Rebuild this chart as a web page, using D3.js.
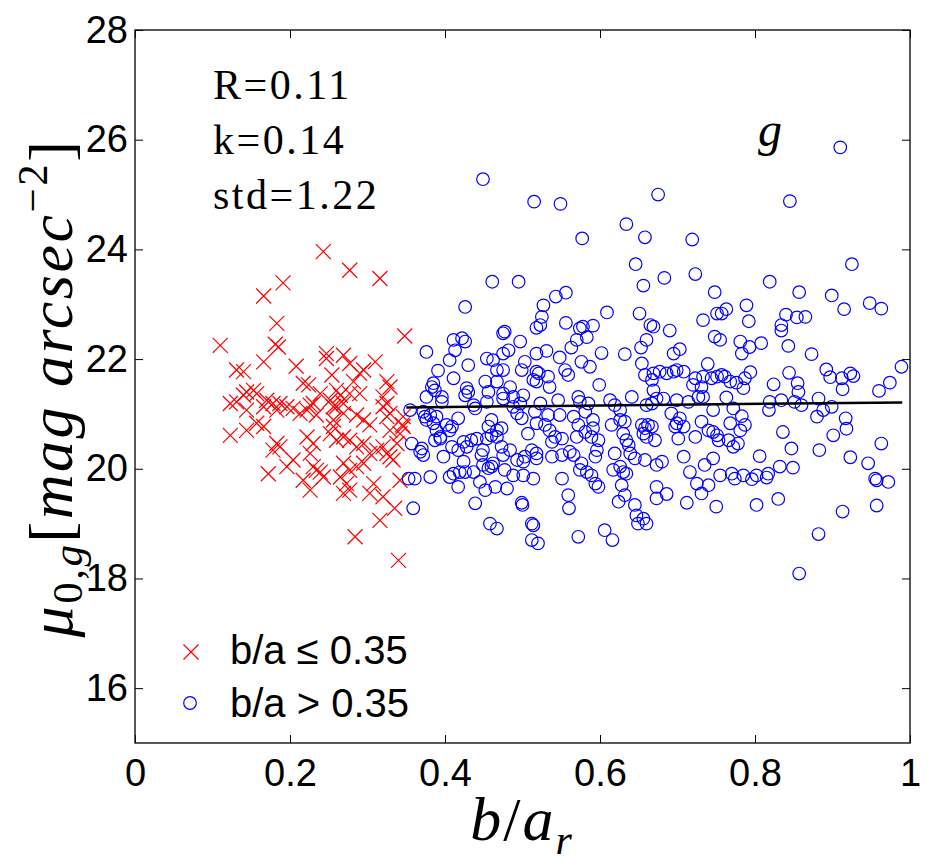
<!DOCTYPE html>
<meta charset="utf-8">
<title>mu0 vs b/a (g band)</title>
<style>
body {
  margin: 0;
  background: #fff;
}
.tick text {
  font-family: "Liberation Sans", Arial, sans-serif;
  font-size: 38px;
  fill: #000;
}
.tick line {
  stroke: #000;
  stroke-width: 1px;
}
.tex {
  font-family: "Liberation Serif", "Times New Roman", serif;
  fill: #000;
}
.legend {
  font-family: "Liberation Sans", Arial, sans-serif;
  font-size: 40px;
  fill: #000;
}
</style>
<svg></svg>
<script src="https://cdn.jsdelivr.net/npm/d3@7"></script>
<script>
// b/a <= 0.35 : [b/a, mu0]
var smallRatio = [
  [.243,23.96],[.277,23.62],[.316,23.47],[.191,23.39],[.166,23.15],[.183,22.65],[.181,22.27],[.185,22.22],[.348,22.42],[.110,22.25],
  [.131,21.80],[.140,21.77],[.166,21.95],[.208,21.87],[.247,22.10],[.247,22.01],[.269,22.07],[.277,21.92],[.310,21.95],[.295,21.80],
  [.254,21.71],[.217,21.56],[.224,21.53],[.325,21.59],[.329,21.49],[.282,21.59],[.290,21.74],
  [.144,21.40],[.153,21.43],[.157,21.37],[.140,21.34],[.123,21.19],[.131,21.22],[.170,21.25],[.178,21.19],[.187,21.19],
  [.239,21.37],[.260,21.43],[.265,21.34],[.252,21.25],[.277,21.37],[.290,21.37],[.269,21.19],[.256,21.13],[.320,21.31],[.325,21.19],
  [.204,21.10],[.226,21.16],[.144,21.07],[.166,21.13],[.183,21.07],[.196,21.13],[.213,21.01],[.222,21.07],[.230,21.19],[.234,20.98],
  [.260,21.13],[.269,21.01],[.256,20.89],[.286,20.98],[.295,20.89],[.303,20.80],[.320,21.13],[.329,21.01],[.325,20.95],[.345,20.80],[.346,20.95],
  [.123,20.61],[.144,20.70],[.157,20.83],[.166,20.77],[.183,20.46],[.187,20.40],[.178,20.34],[.204,20.16],[.196,20.04],
  [.222,20.58],[.230,20.46],[.226,20.28],[.230,20.04],[.239,19.94],
  [.252,20.64],[.260,20.52],[.256,20.77],[.269,20.58],[.277,20.52],[.286,20.40],[.295,20.46],[.303,20.28],
  [.269,20.10],[.277,19.97],[.286,20.04],[.295,20.10],[.265,19.85],[.273,19.73],[.277,19.61],[.269,19.55],
  [.312,20.34],[.325,20.28],[.329,20.22],[.333,20.16],[.320,20.40],[.338,20.46],[.342,20.64],[.329,20.70],[.346,20.77],
  [.172,19.91],[.217,19.79],[.226,19.61],[.243,19.85],[.234,19.97],[.303,19.55],[.320,19.49],[.335,19.28],[.316,19.06],[.342,19.79],[.308,19.73],
  [.284,18.76],[.340,18.33]
];

// b/a > 0.35
var largeRatio = [
  [.449,25.28],[.515,24.87],[.461,23.41],[.495,23.41],[.426,22.95],[.527,22.98],[.525,22.77],[.518,22.57],[.523,22.62],
  [.411,22.35],[.422,22.38],[.426,22.32],[.413,22.16],[.475,22.47],[.477,22.50],[.497,22.32],[.482,22.16],[.475,22.10],[.376,22.13],
  [.406,21.98],[.430,21.89],[.391,21.79],[.411,21.65],[.385,21.56],[.383,21.49],[.387,21.43],[.376,21.31],[.396,21.31],[.396,21.22],
  [.428,21.47],[.430,21.40],[.426,21.34],[.454,22.01],[.462,21.98],[.467,21.80],[.475,21.80],[.503,21.95],[.499,21.80],[.518,22.10],[.518,21.77],
  [.452,21.59],[.467,21.59],[.456,21.40],[.454,21.22],[.475,21.37],[.484,21.49],[.488,21.31],[.475,21.28],[.501,21.34],[.514,21.62],
  [.437,21.16],[.439,21.10],[.355,21.07],[.372,21.04],[.381,20.98],[.376,20.89],[.389,20.95],[.385,20.83],[.374,20.95],
  [.402,20.80],[.409,20.77],[.417,20.92],[.406,20.70],[.389,20.70],[.394,20.58],
  [.460,20.89],[.456,20.77],[.467,20.70],[.473,20.74],[.460,20.61],[.467,20.58],[.454,20.55],
  [.493,21.01],[.499,20.92],[.507,20.64],[.488,21.13],[.497,21.19],[.516,21.04],[.518,20.83],
  [.357,20.46],[.370,20.37],[.372,20.25],[.368,20.31],[.387,20.52],[.394,20.55],
  [.398,20.22],[.409,20.40],[.417,20.34],[.424,20.49],[.428,20.40],[.434,20.52],[.441,20.55],
  [.473,20.40],[.484,20.34],[.475,20.25],[.449,20.34],[.447,20.25],[.449,20.07],[.456,20.01],[.460,20.04],[.462,20.10],
  [.493,20.16],[.501,20.13],[.503,20.22],[.512,20.34],[.518,20.28],[.518,20.19],
  [.424,20.13],[.419,19.94],[.426,19.94],[.411,19.91],[.437,19.94],[.406,19.85],
  [.445,19.76],[.452,19.61],[.465,19.67],[.480,19.64],[.477,19.98],[.488,19.88],[.501,19.88],[.514,19.82],
  [.417,19.67],[.353,19.82],[.361,19.82],[.381,19.85],[.359,19.28],[.439,19.37],[.499,19.38],[.500,19.34],
  [.458,19.00],[.467,18.91],[.512,19.00],[.514,18.97],[.512,18.70],[.520,18.64],
  [.549,24.83],[.675,25.00],[.634,24.46],[.658,24.22],[.719,24.18],[.577,24.20],[.646,23.73],[.683,23.48],[.723,23.55],[.656,23.34],
  [.748,23.22],[.751,22.83],[.543,23.14],[.556,23.21],[.556,22.66],[.609,22.85],[.651,22.83],[.665,22.62],[.669,22.59],[.690,22.52],
  [.733,22.71],[.748,22.41],[.755,22.35],[.574,22.56],[.578,22.59],[.591,22.61],[.583,22.40],[.570,22.35],[.563,22.21],[.660,22.35],
  [.653,22.21],[.703,22.18],[.695,22.10],[.531,22.15],[.548,22.03],[.602,22.11],[.632,22.09],
  [.739,21.91],[.555,21.80],[.559,21.71],[.576,21.95],[.587,21.86],[.521,21.74],[.533,21.68],[.518,21.59],[.535,21.49],[.599,21.53],
  [.654,21.92],[.658,21.71],[.669,21.74],[.667,21.62],[.669,21.43],[.677,21.77],[.686,21.74],[.695,21.77],[.699,21.80],[.708,21.77],
  [.723,21.65],[.733,21.68],[.731,21.49],[.744,21.65],[.751,21.68],[.720,21.53],
  [.523,21.19],[.546,21.25],[.572,21.31],[.574,21.22],[.585,21.19],[.613,21.25],[.619,21.16],[.626,21.07],[.641,21.31],[.660,21.16],
  [.667,21.19],[.673,21.28],[.682,21.28],[.699,21.25],[.714,21.22],[.727,21.31],[.746,21.07],
  [.533,20.98],[.548,20.98],[.566,20.95],[.581,21.04],[.591,20.89],[.591,20.74],[.572,20.80],[.581,20.67],[.570,20.58],[.589,20.58],[.598,20.52],
  [.529,20.80],[.535,20.70],[.542,20.58],[.551,20.55],[.538,20.49],
  [.615,20.80],[.626,20.89],[.632,20.86],[.630,20.64],[.634,20.52],[.637,20.43],
  [.654,20.80],[.658,20.74],[.662,20.80],[.667,20.77],[.656,20.64],[.660,20.58],[.671,20.52],
  [.692,21.01],[.699,20.83],[.703,20.92],[.697,20.77],[.708,20.77],[.701,20.55],
  [.723,20.58],[.731,20.86],[.740,20.70],[.746,20.67],[.751,20.61],[.753,20.52],
  [.538,20.22],[.551,20.25],[.561,20.31],[.566,20.25],[.576,20.10],[.574,19.98],[.583,19.94],[.589,19.88],[.596,20.34],[.594,20.22],
  [.619,20.28],[.626,20.04],[.617,19.98],[.630,19.94],[.634,19.91],[.645,20.19],[.658,20.16],[.673,20.07],[.680,20.13],[.639,20.28],
  [.708,20.22],[.716,19.94],[.735,20.07],[.746,20.19],[.725,19.73],[.731,19.55],[.740,19.70],[.755,19.88],
  [.551,19.82],[.598,19.67],[.594,19.73],[.628,19.70],[.673,19.67],[.686,19.54],[.673,19.46],
  [.559,19.52],[.560,19.28],[.624,19.40],[.632,19.52],[.645,19.34],[.647,19.15],[.656,19.09],[.660,19.00],[.649,19.00],
  [.712,19.38],[.750,19.31],[.572,18.76],[.606,18.88],[.616,18.70],
  [.910,25.86],[.845,24.88],[.925,23.73],[.819,23.41],[.857,23.22],[.899,23.16],[.915,22.91],[.948,23.02],[.963,22.92],
  [.789,22.98],[.792,22.69],[.757,22.83],[.763,22.91],[.840,22.81],[.854,22.76],[.865,22.77],[.834,22.62],[.834,22.52],
  [.781,22.32],[.793,22.22],[.808,22.29],[.783,22.10],[.843,22.24],[.873,22.09],
  [.892,21.81],[.923,21.74],[.927,21.69],[.989,21.86],[.974,21.57],[.960,21.42],
  [.844,21.75],[.824,21.54],[.855,21.56],[.856,21.40],[.897,21.67],[.912,21.65],[.913,21.45],
  [.757,21.71],[.768,21.59],[.776,21.57],[.785,21.47],[.787,21.65],[.794,21.76],[.761,21.68],[.733,21.31],[.763,21.30],
  [.772,21.10],[.783,20.96],[.819,21.22],[.818,21.07],[.834,21.25],[.851,21.22],[.860,21.16],[.882,21.28],[.880,20.95],[.888,21.07],
  [.899,21.13],[.917,20.92],[.918,20.73],[.901,20.61],
  [.768,20.83],[.781,20.70],[.787,20.80],[.766,20.52],[.772,20.40],[.778,20.46],
  [.836,20.67],[.847,20.37],[.883,20.34],[.963,20.46],[.923,20.21],[.946,20.10],
  [.806,20.23],[.832,20.04],[.849,20.02],
  [.770,19.91],[.774,19.82],[.785,19.88],[.796,19.81],[.802,19.88],[.817,19.91],[.815,19.84],
  [.955,19.82],[.957,19.79],[.972,19.76],
  [.802,19.34],[.830,19.45],[.913,19.22],[.957,19.33],[.882,18.81],[.857,18.09]
];

var xTicks = [0, 0.2, 0.4, 0.6, 0.8, 1];
var yTicks = [16, 18, 20, 22, 24, 26, 28];

// linear fit to the b/a > 0.35 sample
var fitSlope = 0.14,
    fitIntercept = 21.07,
    fitRange = [0.35, 0.99];

var stats = ["R=0.11", "k=0.14", "std=1.22"];
var legendLabels = ["b/a \u2264 0.35", "b/a > 0.35"];

var width = 930,
    height = 865;

var x = d3.scaleLinear().domain([0, 1]).range([135, 910]);
var y = d3.scaleLinear().domain([15, 28]).range([743, 30]);

var svg = d3.select("svg")
    .attr("width", width)
    .attr("height", height);

// axes, ticks point inward like matlab
svg.append("g")
    .attr("transform", "translate(0," + y(15) + ")")
    .call(d3.axisBottom(x).tickValues(xTicks).tickSize(-8).tickPadding(16).tickFormat(d3.format("")))
    .call(function(g) { g.select(".domain").remove(); });
svg.append("g")
    .attr("transform", "translate(0," + y(28) + ")")
    .call(d3.axisTop(x).tickValues(xTicks).tickSize(-8).tickFormat(""))
    .call(function(g) { g.select(".domain").remove(); });
svg.append("g")
    .attr("transform", "translate(" + x(0) + ",0)")
    .call(d3.axisLeft(y).tickValues(yTicks).tickSize(-8).tickPadding(7).tickFormat(d3.format("")))
    .call(function(g) { g.select(".domain").remove(); });
svg.append("g")
    .attr("transform", "translate(" + x(1) + ",0)")
    .call(d3.axisRight(y).tickValues(yTicks).tickSize(-8).tickFormat(""))
    .call(function(g) { g.select(".domain").remove(); });

svg.append("rect")
    .attr("x", x(0))
    .attr("y", y(28))
    .attr("width", x(1) - x(0))
    .attr("height", y(15) - y(28))
    .attr("fill", "none")
    .attr("stroke", "#111")
    .attr("stroke-width", 1.4);

var plot = svg.append("g");

var cross = "M-7.5,-7.5L7.5,7.5M-7.5,7.5L7.5,-7.5";

plot.selectAll(".small")
    .data(smallRatio)
  .enter().append("path")
    .attr("class", "small")
    .attr("d", cross)
    .attr("transform", function(d) { return "translate(" + x(d[0]) + "," + y(d[1]) + ")"; })
    .attr("stroke", "#ff0000")
    .attr("stroke-width", 1.2)
    .attr("fill", "none");

plot.selectAll(".large")
    .data(largeRatio)
  .enter().append("circle")
    .attr("class", "large")
    .attr("cx", function(d) { return x(d[0]); })
    .attr("cy", function(d) { return y(d[1]); })
    .attr("r", 6.3)
    .attr("stroke", "#0000ff")
    .attr("stroke-width", 1.2)
    .attr("fill", "none");

var line = d3.line()
    .x(function(d) { return x(d); })
    .y(function(d) { return y(fitIntercept + fitSlope * d); });

plot.append("path")
    .datum(fitRange)
    .attr("d", line)
    .attr("stroke", "#000")
    .attr("stroke-width", 2.5)
    .attr("fill", "none");

// statistics text
svg.selectAll(".stat")
    .data(stats)
  .enter().append("text")
    .attr("class", "tex stat")
    .attr("x", 213)
    .attr("y", function(d, i) { return 99 + i * 55; })
    .style("font-size", "42px")
    .style("letter-spacing", "2.5px")
    .text(function(d) { return d; });

svg.append("text")
    .attr("class", "tex")
    .attr("x", 770)
    .attr("y", 146)
    .attr("text-anchor", "middle")
    .style("font-size", "48px")
    .style("font-style", "italic")
    .text("g");

// legend
var legend = svg.append("g");
legend.append("path")
    .attr("d", cross)
    .attr("transform", "translate(191,652)")
    .attr("stroke", "#ff0000")
    .attr("stroke-width", 1.2)
    .attr("fill", "none");
legend.append("circle")
    .attr("cx", 190)
    .attr("cy", 703)
    .attr("r", 6.3)
    .attr("stroke", "#0000ff")
    .attr("stroke-width", 1.2)
    .attr("fill", "none");
legend.selectAll("text")
    .data(legendLabels)
  .enter().append("text")
    .attr("class", "legend")
    .attr("x", 230)
    .attr("y", function(d, i) { return 664 + i * 53; })
    .text(function(d) { return d; });

// axis titles
var xlab = svg.append("text")
    .attr("class", "tex")
    .attr("x", 522)
    .attr("y", 840)
    .attr("text-anchor", "middle")
    .style("font-size", "62px")
    .style("letter-spacing", "2px");
xlab.append("tspan").style("font-style", "italic").text("b");
xlab.append("tspan").text("/");
xlab.append("tspan").style("font-style", "italic").text("a");
xlab.append("tspan").attr("dy", 14).style("font-size", "42px").style("font-style", "italic").text("r");

var ylab = svg.append("text")
    .attr("class", "tex")
    .attr("transform", "translate(72,388) rotate(-90)")
    .attr("text-anchor", "middle")
    .style("font-size", "62px")
    .style("letter-spacing", "2.5px");
ylab.append("tspan").style("font-style", "italic").text("\u03bc");
ylab.append("tspan").attr("dy", 10).style("font-size", "43px").text("0,");
ylab.append("tspan").style("font-size", "43px").style("font-style", "italic").text("g");
ylab.append("tspan").attr("dy", -10).text("[");
ylab.append("tspan").style("font-style", "italic").text("mag arcsec");
ylab.append("tspan").attr("dy", -25).style("font-size", "43px").text("\u22122");
ylab.append("tspan").attr("dy", 25).text("]");
</script>
